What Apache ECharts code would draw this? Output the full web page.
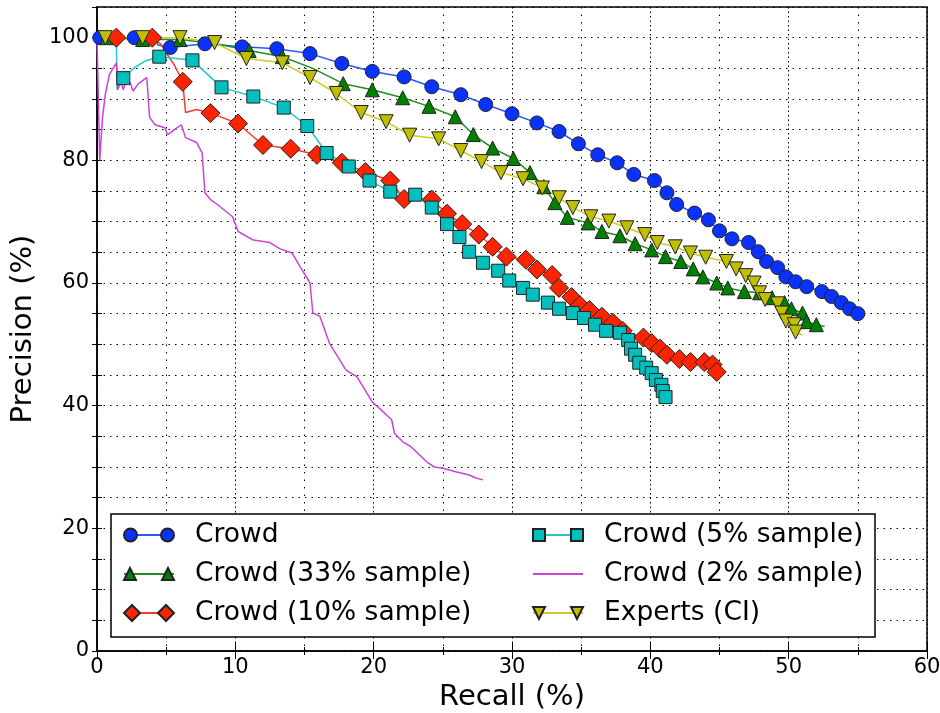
<!DOCTYPE html>
<html lang="en">
<head>
    <meta charset="UTF-8">
    <title>Precision vs Recall</title>
    <script type="text/javascript" src="https://cdn.jsdelivr.net/npm/echarts@6/dist/echarts.min.js"></script>
    <style>
        html, body { margin: 0; padding: 0; background: #fff; }
    </style>
</head>
<body>
    <div id="container" style="width:940px;height:713px"></div>

    <script type="text/javascript">
        // series names (legend order)
        var names = ['Crowd', 'Crowd (33% sample)', 'Crowd (10% sample)',
                     'Crowd (5% sample)', 'Crowd (2% sample)', 'Experts (CI)'];

        // Crowd
        var crowdX = [0.2, 2.7, 5.3, 7.8, 10.5, 13.0, 15.4, 17.7, 19.9, 22.2, 24.2, 26.3, 28.1, 30.0, 31.8, 33.4, 34.8, 36.2, 37.6, 38.8,
                      40.3, 41.2, 41.9, 43.2, 44.2, 45.0, 45.9, 47.1, 47.8, 48.4, 49.2, 49.8, 50.5, 51.3, 52.4, 53.1, 53.8, 54.4, 55.0];
        var crowdY = [100, 100, 98.4, 99.0, 98.5, 98.2, 97.4, 95.8, 94.5, 93.6, 92.0, 90.7, 89.1, 87.6, 86.1, 84.7, 82.7, 80.9, 79.6, 77.7,
                      76.7, 74.7, 72.8, 71.4, 70.3, 68.5, 67.2, 66.6, 65.1, 63.5, 62.5, 61.0, 60.2, 59.4, 58.6, 57.8, 56.8, 55.8, 55.0];
        var crowdPathX = [4.2, 4.4];
        var crowdPathY = [100, 98.8];

        // Crowd (33% sample)
        var c33X = [0.7, 3.3, 6.0, 11.0, 13.4, 17.8, 19.9, 22.1, 24.0, 25.9, 27.2, 28.6, 30.1, 31.3, 32.3, 33.1, 34.0, 35.5,
                    36.5, 37.8, 38.9, 40.1, 41.1, 42.2, 43.1, 43.8, 44.8, 45.6, 46.8, 47.9, 48.8, 49.7, 50.2, 51.0, 51.3, 52.0];
        var c33Y = [100, 99.7, 99.7, 97.9, 96.9, 92.5, 91.5, 90.2, 88.8, 87.1, 84.2, 82.0, 80.3, 78.0, 75.7, 73.1, 70.7, 69.8,
                    68.4, 67.7, 66.4, 65.4, 64.3, 63.5, 62.3, 61.0, 60.0, 59.2, 58.6, 58.4, 57.6, 56.8, 55.8, 55.1, 53.7, 53.2];
        var c33PathX = [8.6, 15.6, 52.6];
        var c33PathY = [99.0, 95.0, 52.9];

        // Crowd (10% sample)
        var c10X = [1.4, 4.0, 6.2, 8.2, 10.2, 12.0, 14.0, 15.9, 17.7, 19.4, 21.2, 22.2, 24.2, 25.3, 26.4, 27.6, 28.6, 29.6, 31.0,
                    31.8, 32.9, 33.4, 34.3, 34.9, 35.6, 36.5, 37.3, 38.0, 39.5, 40.1, 40.7, 41.2, 42.1, 42.9, 43.9, 44.5, 44.8];
        var c10Y = [100, 100, 92.8, 87.7, 86.0, 82.5, 81.9, 80.9, 79.6, 78.1, 76.7, 73.7, 73.6, 71.3, 69.6, 67.9, 65.9, 64.3, 63.8,
                    62.2, 61.3, 59.2, 57.7, 56.4, 55.6, 54.5, 53.5, 52.2, 51.1, 50.2, 49.3, 48.3, 47.6, 47.1, 47.1, 46.7, 45.5];
        var c10PathX = [4.6, 5.1, 5.6, 6.4, 7.2];
        var c10PathY = [99.0, 97.2, 95.5, 87.8, 88.3];

        // Crowd (5% sample)
        var c5X = [1.9, 4.5, 6.9, 9.0, 11.3, 13.5, 15.2, 16.6, 18.2, 19.7, 21.2, 23.0, 24.2, 25.3, 26.2, 26.9, 27.9, 29.0, 29.8,
                   30.8, 31.5, 32.6, 33.4, 34.4, 35.2, 36.0, 36.8, 37.8, 38.4, 38.6, 38.9, 39.2, 39.7, 40.1, 40.4, 40.8, 40.9, 41.1];
        var c5Y = [93.4, 96.9, 96.3, 91.9, 90.4, 88.6, 85.6, 81.2, 79.0, 76.7, 74.9, 74.4, 72.3, 69.6, 67.5, 65.1, 63.3, 62.0, 60.4,
                   59.2, 58.1, 56.8, 55.8, 55.1, 54.3, 53.2, 52.2, 51.9, 50.7, 49.3, 48.3, 47.0, 46.2, 45.3, 44.2, 43.4, 42.4, 41.4];
        var c5PathX = [1.4, 1.45, 2.7, 3.5];
        var c5PathY = [100, 91.5, 95.1, 96.2];

        // Crowd (2% sample), line only
        var c2X = [0, 0.2, 0.4, 0.6, 0.9, 1.4, 1.5, 1.7, 1.9, 2.1, 2.4, 2.6, 3.0, 3.6, 3.8, 4.2, 4.9, 5.1, 5.6, 6.1, 6.4, 7.2, 7.6, 7.8,
                   8.2, 8.7, 9.8, 10.2, 11.3, 12.5, 13.2, 14.1, 14.7, 15.4, 15.6, 16.1, 16.8, 17.4, 18.0, 18.8, 19.5, 19.9, 20.4,
                   21.3, 21.5, 22.1, 22.7, 23.3, 23.9, 24.4, 25.0, 26.0, 26.9, 27.4, 27.9];
        var c2Y = [100, 80, 87, 90.7, 94, 95.9, 91.5, 93, 91.5, 93, 92.7, 91.3, 92.5, 93.5, 87, 85.8, 85.3, 84.2, 85, 85.8, 83.7, 82.9, 81.2, 74.7,
                   73.6, 72.8, 70.8, 68.4, 67, 66.6, 65.6, 64.9, 62.6, 60, 55.1, 54.6, 50.2, 48, 45.8, 44.7, 42.1, 40.6, 39.6,
                   37.7, 35.5, 34.1, 33.3, 32, 30.7, 30, 29.8, 29.2, 28.7, 28.2, 27.9];

        // Experts (CI)
        var expX = [0.6, 3.3, 6.0, 8.5, 10.8, 13.4, 15.4, 17.3, 19.1, 20.9, 22.6, 24.7, 26.3, 27.8, 29.2, 30.8, 32.2, 33.4, 34.4,
                    35.7, 37.0, 38.3, 39.6, 40.5, 41.8, 42.9, 44.0, 45.5, 46.2, 46.9, 47.5, 47.9, 48.3, 49.2, 49.5, 49.8, 50.4, 50.5];
        var expY = [100, 100, 100, 99.2, 96.6, 95.9, 93.5, 90.9, 87.8, 86.3, 84.1, 83.5, 81.6, 79.8, 78.0, 77.0, 75.5, 73.9, 72.3,
                    70.8, 70.1, 69.0, 67.9, 66.6, 65.9, 64.9, 64.2, 63.5, 62.3, 61.2, 60.0, 58.4, 57.3, 56.6, 55.1, 53.8, 53.2, 52.0];
        var expPathX = [51.0];
        var expPathY = [51.5];

        // markers + line-only points, merged in recall order
        function build(mx, my, px, py) {
            var d = mx.map(function (x, i) { return { value: [x, my[i]], m: 0 }; });
            (px || []).forEach(function (x, i) {
                d.push({ value: [x, py[i]], m: 1 });
            });
            d.sort(function (a, b) { return a.value[0] - b.value[0]; });
            return d.map(function (p) {
                var o = { value: p.value };
                if (p.m) o.symbol = 'none';
                return o;
            });
        }

        var font = 'DejaVu Sans';

        function lineSeries(name, data, color, lineColor, symbol, size, rotate) {
            return {
                name: name,
                type: 'line',
                data: data,
                symbol: symbol,
                symbolSize: size,
                symbolRotate: rotate || 0,
                showAllSymbol: true,
                itemStyle: { color: color, borderColor: '#222', borderWidth: 1 },
                lineStyle: { color: lineColor, width: 1.5 },
                emphasis: { disabled: true },
                z: 2
            };
        }

        // legend icons: a marker at each end of the sample line (matplotlib style)
        var hidden = { color: 'rgba(0,0,0,0)', borderWidth: 0 };
        var markerIcons = [
            'path://M0,6.5a6.5,6.5 0 1,0 13,0a6.5,6.5 0 1,0 -13,0zM37,6.5a6.5,6.5 0 1,0 13,0a6.5,6.5 0 1,0 -13,0z',
            'path://M0,12L6,0L12,12ZM38,12L44,0L50,12Z',
            'path://M0,8L8,0L16,8L8,16ZM34,8L42,0L50,8L42,16Z',
            'path://M0,0h12v12h-12zM38,0h12v12h-12z',
            'rect',
            'path://M0,0L12,0L6,12ZM38,0L50,0L44,12Z'
        ];

        function legendPair(idx, left) {
            var base = {
                orient: 'vertical', left: left, top: 520, padding: 0,
                itemWidth: 50, itemHeight: 16, itemGap: 9
            };
            var lines = Object.assign({}, base, {
                z: 5,
                data: idx.map(function (i) { return { name: names[i], itemStyle: hidden }; }),
                textStyle: { fontFamily: font, fontSize: 26.5, color: '#000', lineHeight: 30, padding: [0, 0, 0, 16] }
            });
            var marks = Object.assign({}, base, {
                z: 6,
                data: idx.map(function (i) {
                    var o = { name: names[i], icon: markerIcons[i] };
                    if (i === 4) o.itemStyle = hidden;
                    return o;
                }),
                textStyle: { fontFamily: font, fontSize: 26.5, color: 'rgba(0,0,0,0)', lineHeight: 30, padding: [0, 0, 0, 16] }
            });
            return [lines, marks];
        }

        var dom = document.getElementById('container');
        var myChart = echarts.init(dom, null, { renderer: 'canvas' });

        var option = {
            animation: false,
            backgroundColor: '#fff',
            grid: {
                left: 97, right: 13, top: 7, bottom: 62,
                show: true, borderColor: '#000', borderWidth: 1.5,
                outerBoundsMode: 'none'
            },
            xAxis: [{
                type: 'value', min: 0, max: 60, interval: 10,
                name: 'Recall (%)', nameLocation: 'middle', nameGap: 26,
                nameTextStyle: { fontFamily: font, fontSize: 29, color: '#000' },
                axisLine: { onZero: false, lineStyle: { color: '#000', width: 1.5 } },
                axisTick: { inside: true, length: 8, lineStyle: { color: '#000' } },
                minorTick: { show: true, splitNumber: 2, length: 4, lineStyle: { color: '#000' } },
                axisLabel: { fontFamily: font, fontSize: 21, color: '#000', margin: 6 },
                splitLine: { show: true, lineStyle: { color: '#000', type: [1.5, 3], width: 1 } },
                minorSplitLine: { show: true, lineStyle: { color: '#000', type: [1.5, 6], width: 1 } }
            }, {
                type: 'value', min: 0, max: 60, interval: 10, position: 'top',
                axisLine: { show: false },
                axisTick: { inside: true, length: 8, lineStyle: { color: '#000' } },
                minorTick: { show: true, splitNumber: 2, length: 4, lineStyle: { color: '#000' } },
                axisLabel: { show: false },
                splitLine: { show: false }
            }],
            yAxis: [{
                type: 'value', min: 0, max: 105, interval: 5,
                name: 'Precision (%)', nameLocation: 'middle', nameGap: 54,
                nameTextStyle: { fontFamily: font, fontSize: 29, color: '#000' },
                axisLine: { onZero: false, lineStyle: { color: '#000', width: 1.5 } },
                axisTick: { inside: true, length: 5, lineStyle: { color: '#000' } },
                axisLabel: {
                    fontFamily: font, fontSize: 21, color: '#000', margin: 8,
                    showMaxLabel: false,
                    formatter: function (v) { return v % 20 === 0 ? String(v) : ''; }
                },
                splitLine: { show: true, lineStyle: { color: '#000', type: [1.5, 5], width: 1 } }
            }, {
                type: 'value', min: 0, max: 105, interval: 5, position: 'right',
                axisLine: { show: false },
                axisTick: { inside: true, length: 5, lineStyle: { color: '#000' } },
                axisLabel: { show: false },
                splitLine: { show: false }
            }],
            graphic: [{
                type: 'rect',
                shape: { x: 111, y: 514, width: 764, height: 123 },
                style: { fill: '#fff', stroke: '#000', lineWidth: 1.5 },
                z: 3
            }],
            legend: legendPair([0, 1, 2], 123).concat(legendPair([3, 4, 5], 532)),
            series: [
                lineSeries(names[0], build(crowdX, crowdY, crowdPathX, crowdPathY), '#0a32ff', '#2a55ff', 'circle', 14),
                lineSeries(names[1], build(c33X, c33Y, c33PathX, c33PathY), '#008000', '#1f8f1f', 'triangle', 14),
                lineSeries(names[2], build(c10X, c10Y, c10PathX, c10PathY), '#ff2400', '#ff3a2a', 'diamond', 19),
                lineSeries(names[3], build(c5X, c5Y, c5PathX, c5PathY), '#00bfbf', '#22c8c8', 'rect', 13),
                lineSeries(names[4], build(c2X, c2Y), '#cc33cc', '#cc44d4', 'none', 1),
                lineSeries(names[5], build(expX, expY, expPathX, expPathY), '#bfbf00', '#cccc22', 'triangle', 14, 180)
            ]
        };

        if (option && typeof option === "object") {
            myChart.setOption(option, true);
        }
    </script>
</body>
</html>
